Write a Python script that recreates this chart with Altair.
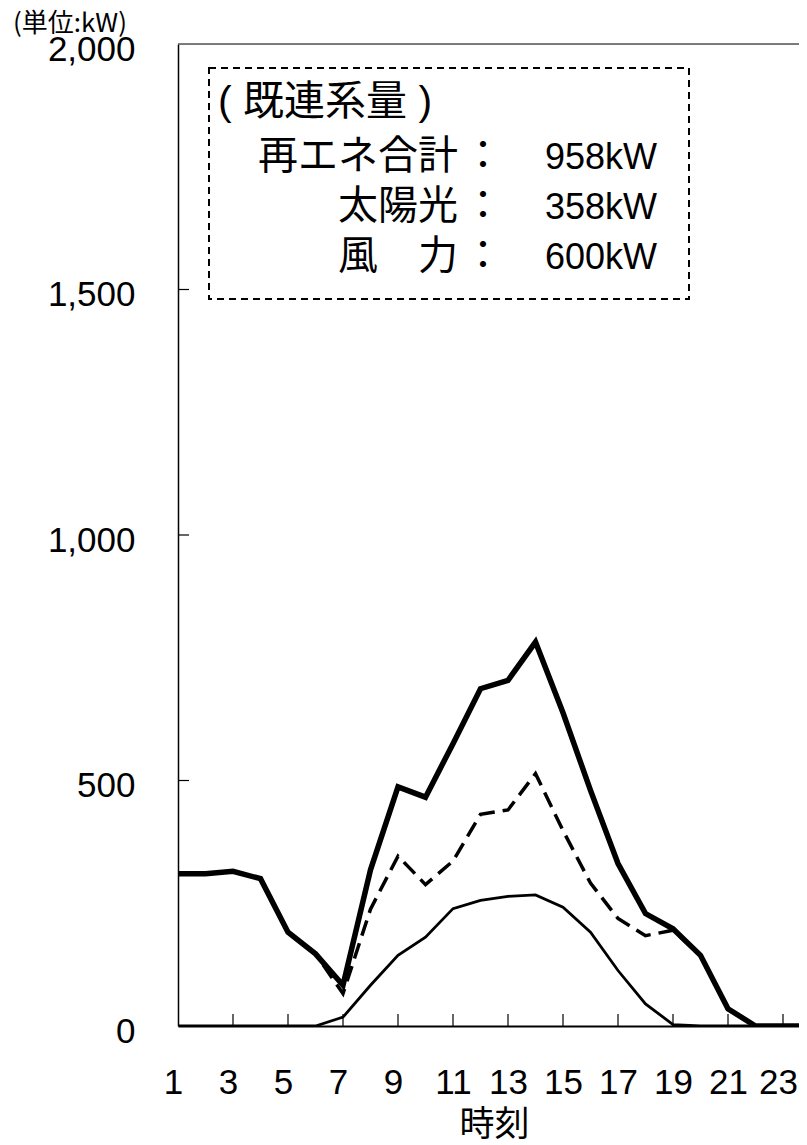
import altair as alt
import pandas as pd

# ---- data ----
hours = list(range(1, 25))
total = [310, 310, 315, 300, 191, 147, 83, 318, 487, 466, 575, 687, 704, 782, 638, 480, 331, 229, 198, 144, 35, 0, 0, 0]
wind = [310, 310, 315, 300, 191, 147, 66, 238, 346, 288, 336, 431, 440, 514, 398, 291, 219, 184, 195, 144, 35, 0, 0, 0]
solar = [0, 0, 0, 0, 0, 0, 18, 83, 144, 181, 239, 256, 264, 267, 242, 191, 113, 45, 3, 0, 0, 0, 0, 0]

x_tick_values = list(range(1, 24, 2))
x_inner_ticks = list(range(3, 24, 2))
y_tick_values = [0, 500, 1000, 1500, 2000]
y_inner_ticks = [500, 1000, 1500]

unit_label = "(単位:kW)"
x_title = "時刻"
box_heading = "( 既連系量 )"
box_names = ["再エネ合計", "太陽光", "風　力"]
box_values = ["958kW", "358kW", "600kW"]

# ---- layout ----
W, H = 621, 982
PX_PER_HOUR = 27.5
x_max = 1 + W / PX_PER_HOUR

LAT = "Liberation Sans, Arial, Noto Sans CJK JP"
CJK = "Noto Sans CJK JP"

df = pd.DataFrame({"hour": hours, "total": total, "wind": wind, "solar": solar})
xt = pd.DataFrame({"t": x_inner_ticks})
yt = pd.DataFrame({"v": y_inner_ticks})
one = pd.DataFrame({"k": [0]})

x_scale = alt.Scale(domain=[1, x_max], nice=False, zero=False)
y_scale = alt.Scale(domain=[0, 2000], nice=False, zero=True)

x_axis = alt.Axis(
    values=x_tick_values, ticks=False, grid=False, domain=True,
    domainColor="black", domainWidth=2,
    labelFont=LAT, labelFontSize=35, labelColor="black", labelPadding=39,
    labelOffset={"condition": {"test": "datum.value < 10 || datum.value == 23", "value": -5}, "value": 0},
    labelFlush=False, labelOverlap=False,
    title=x_title, titleFont=CJK, titleFontSize=35, titleFontWeight="normal",
    titleColor="black", titleX=316, titleY=109, titleBaseline="alphabetic",
    titleAnchor="middle", titleAlign="center",
)
y_axis = alt.Axis(
    values=y_tick_values, ticks=False, grid=False, domain=True,
    domainColor="black", domainWidth=1.5, format=",.0f",
    labelFont=LAT, labelFontSize=35, labelColor="black", labelPadding=43,
    labelOffset=5, labelFlush=False, labelOverlap=False, title=None,
)

def X(field):
    return alt.X(f"{field}:Q", scale=x_scale, axis=x_axis)

def Y(field):
    return alt.Y(f"{field}:Q", scale=y_scale, axis=y_axis)

solar_line = alt.Chart(df).mark_line(color="black", strokeWidth=2.8, clip=True).encode(
    x=X("hour"), y=Y("solar"))
wind_line = alt.Chart(df).mark_line(color="black", strokeWidth=3.5, strokeDash=[16, 8], clip=True).encode(
    x=X("hour"), y=Y("wind"))
total_line = alt.Chart(df).mark_line(color="black", strokeWidth=5.5, clip=True).encode(
    x=X("hour"), y=Y("total"))

x_ticks = alt.Chart(xt).mark_rule(color="black", strokeWidth=1.2).encode(
    x=X("t"), y=alt.value(H), y2=alt.value(H - 12))
y_ticks = alt.Chart(yt).mark_rule(color="black", strokeWidth=1.2).encode(
    y=Y("v"), x=alt.value(0), x2=alt.value(11))

top_border = alt.Chart(one).mark_rule(color="#555", strokeWidth=1.5).encode(
    x=alt.value(0), x2=alt.value(W), y=alt.value(0))

box = alt.Chart(one).mark_rect(fill="white", fillOpacity=0, stroke="black", strokeWidth=2,
                               strokeDash=[7, 5]).encode(
    x=alt.value(31), x2=alt.value(511), y=alt.value(24), y2=alt.value(255))

texts = []
texts.append(alt.Chart(one).mark_text(text=unit_label, font=CJK, fontSize=26, align="left",
                                      baseline="middle", color="black").encode(
    x=alt.value(-165), y=alt.value(-20)))
texts.append(alt.Chart(one).mark_text(text=box_heading, font=LAT + ", " + CJK, fontSize=41, align="left",
                                      baseline="middle", color="black").encode(
    x=alt.value(40), y=alt.value(59)))
row_y = [113, 163, 213]
for name, val, yy in zip(box_names, box_values, row_y):
    texts.append(alt.Chart(one).mark_text(text=name, font=CJK, fontSize=40, align="right",
                                          baseline="middle", color="black").encode(
        x=alt.value(280), y=alt.value(yy)))
    texts.append(alt.Chart(one).mark_text(text="：", font=CJK, fontSize=40, align="center",
                                          baseline="middle", color="black").encode(
        x=alt.value(305), y=alt.value(yy)))
    texts.append(alt.Chart(one).mark_text(text=val, font=LAT, fontSize=36, align="left",
                                          baseline="middle", color="black").encode(
        x=alt.value(367), y=alt.value(yy + 1)))

chart = alt.layer(
    box, solar_line, wind_line, total_line, x_ticks, y_ticks, top_border, *texts
).properties(
    width=W, height=H,
    autosize=alt.AutoSizeParams(type="none"),
    padding={"left": 170, "top": 36, "right": 0, "bottom": 118},
).configure_view(stroke=None).configure(background="white")

chart.save("out.html", embed_options={"renderer": "svg", "actions": False})
